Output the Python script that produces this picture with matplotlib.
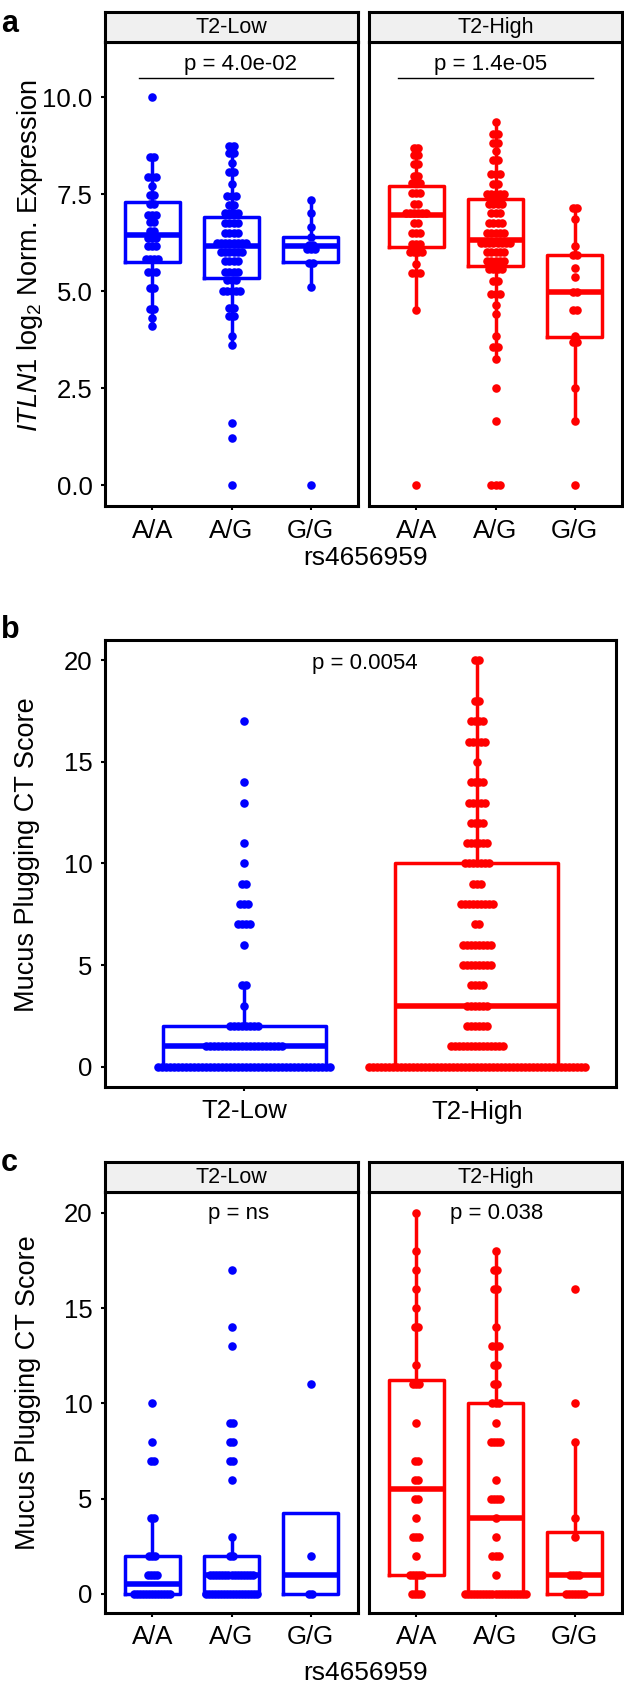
import matplotlib
matplotlib.use("Agg")
import matplotlib.pyplot as plt
import numpy as np

plt.rcParams['font.family'] = ['Liberation Sans', 'DejaVu Sans']
plt.rcParams['mathtext.fontset'] = 'custom'
plt.rcParams['mathtext.rm'] = 'Liberation Sans'
plt.rcParams['mathtext.it'] = 'Liberation Sans:italic'

BLUE = '#0000ff'
RED = '#ff0000'

genotypes = ['A/A', 'A/G', 'G/G']
facets = ['T2-Low', 'T2-High']

# panel a: ITLN1 log2 normalised expression, by genotype
a_low_AA = [10.0, 8.5, 8.4, 8.0, 7.95, 7.9, 7.7, 7.55, 7.4, 7.3, 7.2, 7.0, 6.95, 6.9,
            6.85, 6.7, 6.6, 6.5, 6.45, 6.4, 6.3, 6.2, 6.15, 6.1, 5.9, 5.85, 5.8, 5.75,
            5.6, 5.5, 5.4, 5.1, 5.05, 4.6, 4.5, 4.3, 4.1]
a_low_AG = [8.78, 8.7, 8.6, 8.5, 8.3, 8.15, 8.0, 7.75, 7.5, 7.45, 7.4, 7.3, 7.15, 7.1,
            7.0, 6.95, 6.9, 6.85, 6.8, 6.7, 6.65, 6.6, 6.5, 6.45, 6.4, 6.35, 6.3, 6.25,
            6.2, 6.2, 6.15, 6.15, 6.15, 6.1, 6.1, 6.05, 6.0, 5.95, 5.9, 5.85, 5.8, 5.75,
            5.7, 5.6, 5.5, 5.45, 5.4, 5.35, 5.3, 5.2, 5.1, 5.0, 4.95, 4.95, 4.9, 4.6,
            4.55, 4.4, 4.3, 3.85, 3.6, 1.6, 1.2, 0.0]
a_low_GG = [7.35, 7.0, 6.65, 6.4, 6.2, 6.2, 6.15, 6.1, 6.0, 5.75, 5.7, 5.1, 0.0]
a_high_AA = [8.75, 8.65, 8.55, 8.45, 8.3, 8.25, 8.0, 7.95, 7.85, 7.75, 7.7, 7.6, 7.5,
             7.45, 7.3, 7.2, 7.1, 7.05, 7.0, 6.98, 6.95, 6.9, 6.8, 6.7, 6.6, 6.5, 6.4,
             6.3, 6.2, 6.15, 6.1, 6.0, 5.95, 5.9, 5.7, 5.55, 5.5, 5.4, 4.5, 0.0]
a_high_AG = [9.35, 9.1, 9.0, 8.85, 8.8, 8.6, 8.4, 8.35, 8.1, 8.05, 7.95, 7.8, 7.7, 7.6,
             7.55, 7.5, 7.45, 7.4, 7.35, 7.3, 7.2, 7.15, 7.1, 7.0, 6.9, 6.85, 6.8, 6.7,
             6.65, 6.6, 6.55, 6.5, 6.45, 6.4, 6.35, 6.32, 6.3, 6.25, 6.2, 6.2, 6.15,
             6.15, 6.1, 6.05, 6.0, 5.95, 5.9, 5.85, 5.8, 5.75, 5.7, 5.7, 5.65, 5.65,
             5.6, 5.5, 5.3, 5.2, 4.95, 4.95, 4.9, 4.65, 4.4, 3.85, 3.65, 3.45, 3.25,
             2.5, 1.65, 0.0, 0.0, 0.0]
a_high_GG = [7.2, 7.1, 6.85, 6.15, 5.95, 5.9, 5.6, 5.35, 5.0, 4.95, 4.6, 4.4, 3.85,
             3.8, 3.6, 2.5, 1.65, 0.0]
a_pvals = ['p = 4.0e-02', 'p = 1.4e-05']

# panel b: mucus plugging score, counts per score value
b_low_scores = [0, 1, 2, 3, 4, 6, 7, 8, 9, 10, 11, 13, 14, 17]
b_low_counts = [44, 20, 8, 1, 2, 1, 4, 3, 2, 1, 1, 1, 1, 1]
b_high_scores = [0, 1, 2, 3, 4, 5, 6, 7, 8, 9, 10, 11, 12, 13, 14, 15, 16, 17, 18, 20]
b_high_counts = [55, 14, 6, 6, 4, 8, 8, 2, 9, 3, 7, 6, 4, 5, 4, 1, 5, 4, 2, 2]
b_pval = 'p = 0.0054'

# panel c: mucus plugging score by genotype (scores, counts)
c_low_scores = [[0, 1, 2, 4, 7, 8, 10],
                [0, 1, 2, 3, 6, 7, 8, 9, 13, 14, 17],
                [0, 2, 11]]
c_low_counts = [[13, 4, 3, 2, 2, 1, 1],
                [18, 15, 2, 1, 1, 2, 2, 2, 1, 1, 1],
                [2, 1, 1]]
c_high_scores = [[0, 1, 2, 3, 4, 5, 6, 7, 9, 11, 12, 14, 15, 16, 17, 18, 20],
                 [0, 1, 2, 3, 4, 5, 6, 8, 9, 10, 11, 12, 13, 14, 16, 17, 18],
                 [0, 1, 3, 4, 8, 10, 16]]
c_high_counts = [[4, 5, 1, 3, 1, 2, 2, 2, 1, 3, 1, 2, 1, 1, 1, 1, 1],
                 [21, 1, 3, 1, 1, 4, 1, 4, 1, 3, 2, 2, 3, 1, 2, 2, 1],
                 [7, 4, 1, 1, 1, 1, 1]]
c_pvals = ['p = ns', 'p = 0.038']

W, H = 624, 1698
fig = plt.figure(figsize=(W / 100, H / 100), dpi=100)


def add_ax(x0, y0, x1, y1):
    return fig.add_axes([x0 / W, 1 - y1 / H, (x1 - x0) / W, (y1 - y0) / H])


def style(ax):
    for s in ax.spines.values():
        s.set_linewidth(2.2)
        s.set_color('black')
    ax.tick_params(direction='out', length=3, width=1.5, labelsize=18.5, pad=6,
                   colors='black')


def strip(x0, y0, x1, y1, label):
    s = add_ax(x0, y0, x1, y1)
    s.set_facecolor('#f0f0f0')
    s.set_xticks([])
    s.set_yticks([])
    for sp in s.spines.values():
        sp.set_linewidth(2.2)
    s.text(0.5, 0.48, label, ha='center', va='center', fontsize=15.5,
           transform=s.transAxes)


def dot_bins(values, bw):
    v = np.sort(np.asarray(values, dtype=float))
    centers, counts = [], []
    i = 0
    while i < len(v):
        j = i
        while j < len(v) and v[j] < v[i] + bw:
            j += 1
        centers.append((v[i] + v[j - 1]) / 2)
        counts.append(j - i)
        i = j
    return centers, counts


def draw_group(ax, values, pos, color, bw, sp):
    ax.boxplot([values], positions=[pos], widths=0.7, whis=1.5, showfliers=False,
               showcaps=False, manage_ticks=False,
               boxprops=dict(color=color, linewidth=2.5),
               whiskerprops=dict(color=color, linewidth=2.5),
               medianprops=dict(color=color, linewidth=4.0, solid_capstyle='butt'))
    ys, ns = dot_bins(values, bw)
    for y, n in zip(ys, ns):
        xs = pos + (np.arange(n) - (n - 1) / 2) * sp
        ax.scatter(xs, [y] * n, s=38, color=color, linewidths=0, zorder=3)


# ---------------- panel a ----------------
a_data = [[a_low_AA, a_low_AG, a_low_GG], [a_high_AA, a_high_AG, a_high_GG]]
a_cols = [BLUE, RED]
a_lines = [(0.83, 3.29), (0.77, 3.23)]
a_ptx = [2.11, 1.94]
for k, (x0, x1) in enumerate([(105, 358), (369, 622)]):
    ax = add_ax(x0, 42, x1, 506)
    strip(x0, 12, x1, 42, facets[k])
    for i, vals in enumerate(a_data[k]):
        draw_group(ax, vals, i + 1, a_cols[k], 0.2, 4 / 79)
    ax.plot(a_lines[k], [10.49, 10.49], color='black', lw=1.0)
    ax.text(a_ptx[k], 10.85, a_pvals[k], ha='center', va='center', fontsize=16)
    ax.set_xlim(0.4, 3.6)
    ax.set_ylim(-0.54, 11.42)
    ax.set_xticks([1, 2, 3])
    ax.set_xticklabels(genotypes)
    ax.set_yticks([0, 2.5, 5, 7.5, 10])
    ax.set_yticklabels(['0.0', '2.5', '5.0', '7.5', '10.0'])
    style(ax)
    if k == 1:
        ax.tick_params(axis='y', left=False, labelleft=False)

fig.text(30 / W, 1 - 256 / H, r'$\it{ITLN1}$ log$_2$ Norm. Expression', rotation=90,
         ha='center', va='center', fontsize=19.5)
fig.text(366 / W, 1 - 558 / H, 'rs4656959', ha='center', va='center', fontsize=19)

# ---------------- panel b ----------------
axb = add_ax(105, 640, 616, 1087)
draw_group(axb, np.repeat(b_low_scores, b_low_counts), 1, BLUE, 0.5, 4 / 232)
draw_group(axb, np.repeat(b_high_scores, b_high_counts), 2, RED, 0.5, 4 / 232)
axb.text(1.52, 19.85, b_pval, ha='center', va='center', fontsize=16)
axb.set_xlim(0.4, 2.6)
axb.set_ylim(-1, 21)
axb.set_xticks([1, 2])
axb.set_xticklabels(facets)
axb.set_yticks([0, 5, 10, 15, 20])
style(axb)
fig.text(27 / W, 1 - 855 / H, 'Mucus Plugging CT Score', rotation=90,
         ha='center', va='center', fontsize=19.5)

# ---------------- panel c ----------------
c_scores = [c_low_scores, c_high_scores]
c_counts = [c_low_counts, c_high_counts]
c_ptx = [2.09, 2.02]
for k, (x0, x1) in enumerate([(105, 358), (369, 622)]):
    ax = add_ax(x0, 1192, x1, 1613)
    strip(x0, 1162, x1, 1192, facets[k])
    for i in range(3):
        vals = np.repeat(c_scores[k][i], c_counts[k][i])
        draw_group(ax, vals, i + 1, a_cols[k], 0.5, 3 / 79)
    ax.text(c_ptx[k], 19.95, c_pvals[k], ha='center', va='center', fontsize=16)
    ax.set_xlim(0.4, 3.6)
    ax.set_ylim(-1.0, 21.1)
    ax.set_xticks([1, 2, 3])
    ax.set_xticklabels(genotypes)
    ax.set_yticks([0, 5, 10, 15, 20])
    style(ax)
    if k == 1:
        ax.tick_params(axis='y', left=False, labelleft=False)

fig.text(28 / W, 1 - 1393 / H, 'Mucus Plugging CT Score', rotation=90,
         ha='center', va='center', fontsize=19.5)
fig.text(366 / W, 1 - 1673 / H, 'rs4656959', ha='center', va='center', fontsize=19)

# panel letters
fig.text(1 / W, 1 - 32 / H, 'a', fontsize=22, fontweight='bold', ha='left', va='baseline')
fig.text(1 / W, 1 - 638 / H, 'b', fontsize=22, fontweight='bold', ha='left', va='baseline')
fig.text(1 / W, 1 - 1171 / H, 'c', fontsize=22, fontweight='bold', ha='left', va='baseline')

fig.savefig('out.png', dpi=100)
